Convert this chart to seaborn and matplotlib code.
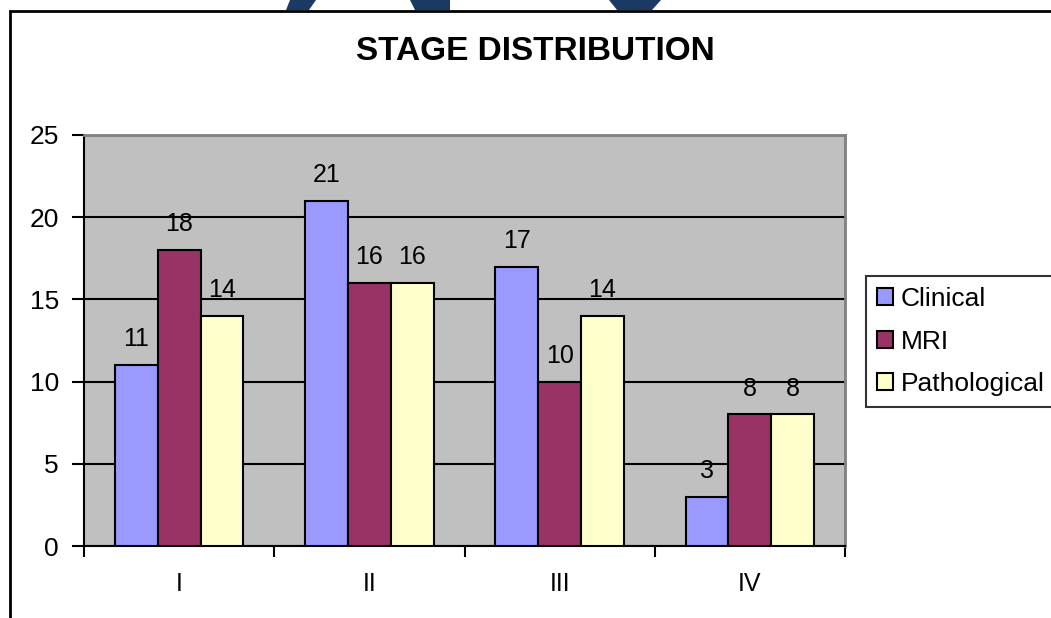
import matplotlib
matplotlib.use("Agg")
import matplotlib.pyplot as plt
import seaborn as sns
import pandas as pd
from matplotlib.patches import Rectangle, Polygon

stages = ["I", "II", "III", "IV"]
series = ["Clinical", "MRI", "Pathological"]
clinical = [11, 21, 17, 3]
mri = [18, 16, 10, 8]
pathological = [14, 16, 14, 8]
colors = ["#9999FF", "#993366", "#FFFFCC"]
y_ticks = [0, 5, 10, 15, 20, 25]

df = pd.DataFrame({
    "Stage": stages * 3,
    "Series": [s for s in series for _ in stages],
    "Count": clinical + mri + pathological,
})

sns.set_style("white")
plt.rcParams["font.family"] = ["Liberation Sans", "DejaVu Sans"]
plt.rcParams["text.color"] = "black"
plt.rcParams["xtick.color"] = "black"
plt.rcParams["ytick.color"] = "black"
plt.rcParams["axes.labelcolor"] = "black"

W, H = 1051, 618
fig = plt.figure(figsize=(W / 100, H / 100), dpi=100)
ax = fig.add_axes([84 / W, 1 - 546 / H, (845 - 84) / W, (546 - 135) / H])
ax.set_facecolor("#C0C0C0")

sns.barplot(data=df, x="Stage", y="Count", hue="Series", hue_order=series,
            palette=colors, edgecolor="black", linewidth=1.5, width=0.675,
            saturation=1, ax=ax, zorder=3, errorbar=None)

for cont in ax.containers:
    ax.bar_label(cont, padding=10, fontsize=18, color="black")

ax.set_ylim(0, 25)
ax.set_xlim(-0.5, 3.5)
ax.set_yticks(y_ticks)
ax.set_yticklabels([str(t) for t in y_ticks], fontsize=19)
ax.yaxis.grid(True, color="black", linewidth=1.5, zorder=1)
ax.set_axisbelow(True)
ax.tick_params(axis="y", direction="out", length=9, width=1.5, color="black", pad=9, left=True)
ax.set_xticks(range(len(stages)))
ax.set_xticklabels(stages, fontsize=18)
ax.tick_params(axis="x", which="major", length=0, pad=19)
ax.set_xticks([-0.5, 0.5, 1.5, 2.5, 3.5], minor=True)
ax.tick_params(axis="x", which="minor", direction="out", length=8, width=1.5, color="black", bottom=True)
ax.set_xlabel("")
ax.set_ylabel("")

for side in ["left", "bottom"]:
    ax.spines[side].set_color("black")
    ax.spines[side].set_linewidth(1.5)
for side in ["top", "right"]:
    ax.spines[side].set_color("#808080")
    ax.spines[side].set_linewidth(2)

leg = ax.legend(loc="upper left", bbox_to_anchor=(866 / W, 1 - 276 / H),
                bbox_transform=fig.transFigure, frameon=True, fontsize=19,
                handlelength=0.6, handleheight=0.6, handletextpad=0.3,
                labelspacing=0.7, borderpad=0.42, borderaxespad=0, fancybox=False)
leg.get_frame().set_edgecolor("black")
leg.get_frame().set_linewidth(1.5)
leg.set_title(None)

fig.text(535 / W, 1 - 51 / H, "STAGE DISTRIBUTION", ha="center", va="center",
         fontsize=24, fontweight="bold")

# chart area border (cropped on right and bottom)
fig.patches.append(Rectangle((10 / W, -0.1), 1.2, (H - 11) / H + 0.1,
                             transform=fig.transFigure, fill=False,
                             edgecolor="black", linewidth=2))

# watermark fragments at top edge
navy = "#1B3A63"
shapes = [
    [(290, 0), (316, 0), (309, 10), (286, 10)],
    [(410, 0), (450, 0), (450, 10), (415, 10)],
    [(609, 0), (661, 0), (652, 10), (617, 10)],
]
for pts in shapes:
    fig.patches.append(Polygon([(x / W, 1 - y / H) for x, y in pts], closed=True,
                               transform=fig.transFigure, facecolor=navy,
                               edgecolor="none"))

fig.savefig("out.png", dpi=100)
